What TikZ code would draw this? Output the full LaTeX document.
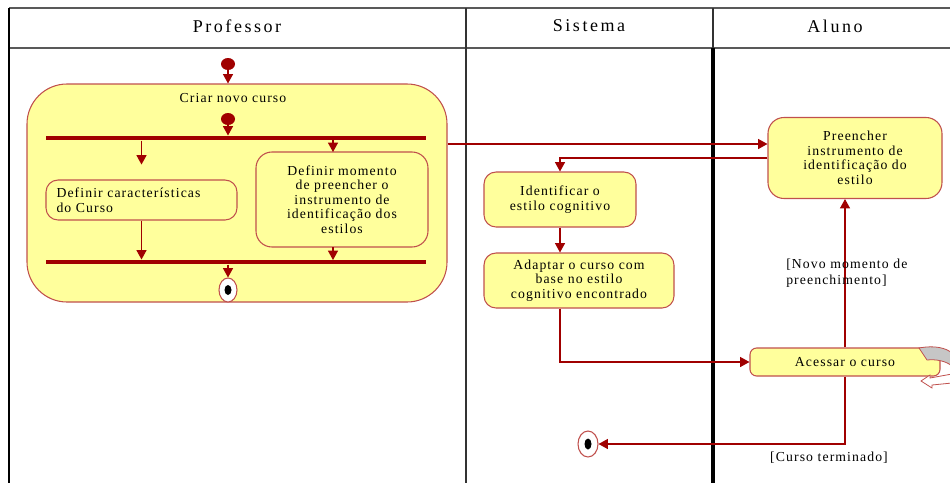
\documentclass[tikz,border=0pt]{standalone}
\usepackage{fontspec}
\setmainfont[LetterSpace=8]{Liberation Serif}
\newfontfamily\headfont[LetterSpace=14]{Liberation Serif}
\usetikzlibrary{positioning,calc,shapes,arrows.meta}

\definecolor{flowred}{HTML}{A00000}
\definecolor{boxred}{HTML}{C0504D}
\definecolor{boxyellow}{HTML}{FFFF9C}
\newdimen\pxu \pxu=0.75pt

\tikzset{
    act/.style={draw=boxred,fill=boxyellow,rounded corners=9pt,line width=0.8pt,
        align=center,inner sep=2pt,font=\fontsize{10.3}{10.9}\selectfont},
    startdot/.style={ellipse,fill=flowred,minimum width=14\pxu,minimum height=12\pxu,inner sep=0pt},
    enddot/.style={ellipse,draw=boxred,fill=white,line width=0.8pt,minimum width=18\pxu,minimum height=24\pxu,inner sep=0pt},
    bar/.style={fill=flowred,minimum width=380\pxu,minimum height=4.5\pxu,inner sep=0pt},
    flow/.style={-{Triangle[length=7pt,width=7.5pt]},flowred,line width=0.8pt},
    guard/.style={font=\fontsize{10.3}{11.5}\selectfont,align=left,inner sep=0pt},
    lane/.style={font=\headfont\fontsize{13.5}{15}\selectfont},
}

\begin{document}
\begin{tikzpicture}[x=0.75pt,y=-0.75pt]
    \useasboundingbox (0,0) rectangle (950,483);

    % swimlanes
    \draw[gray!70!black,line width=1.2pt] (9,8) -- (950,8);
    \draw[gray!70!black,line width=1.2pt] (9,48) -- (950,48);
    \draw[line width=1.2pt] (9,8) -- (9,483);
    \draw[gray!40!black,line width=1pt] (466,8) -- (466,483);
    \draw[gray!40!black,line width=1pt] (713,8) -- (713,48);
    \draw[line width=2.4pt] (713,48) -- (713,483);
    \node[lane] (hprof) at (237,26) {Professor};
    \node[lane] (hsis) at (589,26) {Sistema};
    \node[lane] (halu) at (835,26) {Aluno};

    % Professor
    \node[act,rounded corners=30pt,minimum width=420\pxu,minimum height=218\pxu] (criar) at (237,193) {};
    \node[font=\fontsize{10.3}{10.9}\selectfont] (criarlbl) at (233,98) {Criar novo curso};
    \node[startdot] (start1) at (228,64) {};
    \node[startdot] (start2) at (228,119) {};
    \node[bar] (fork) at (236,138) {};
    \node[bar] (join) at (236,262) {};
    \node[act,align=left,minimum width=191\pxu,minimum height=40\pxu,text width=170\pxu] (caract) at (141.5,200)
        {Definir características\\do Curso};
    \node[act,rounded corners=12pt,minimum width=172\pxu,minimum height=95\pxu] (momento) at (342,199.5)
        {Definir momento\\de preencher o\\instrumento de\\identificação dos\\estilos};
    \node[enddot] (end1) at (228,290) {};
    \fill (end1.center) ellipse (3.5 and 5);

    \draw[flow] (start1) -- (start1 |- criar.north);
    \draw[flow] (start2) -- (start2 |- fork.north);
    \draw[flow] (caract.north |- fork.south) -- ++(0,24);
    \draw[flow] (333,140) -- (333,152);
    \draw[flow] (caract.south) -- (caract.south |- join.north);
    \draw[flow] (333,247) -- (333,260);
    \draw[flow] (end1 |- join.south) -- (end1.north);

    % Sistema and Aluno
    \node[act,rounded corners=12pt,minimum width=174\pxu,minimum height=81\pxu] (preencher) at (855,158)
        {Preencher\\instrumento de\\identificação do\\estilo};
    \node[act,minimum width=152\pxu,minimum height=55\pxu] (identificar) at (560,199.5)
        {Identificar o\\estilo cognitivo};
    \node[act,minimum width=190\pxu,minimum height=55\pxu] (adaptar) at (579,280.5)
        {Adaptar o curso com\\base no estilo\\cognitivo encontrado};
    \node[act,rounded corners=5pt,minimum width=190\pxu,minimum height=28\pxu] (acessar) at (845,362)
        {Acessar o curso};
    \node[enddot,minimum width=20\pxu,minimum height=26\pxu] (end2) at (588,444) {};
    \fill (end2.center) ellipse (3.5 and 5.5);

    \draw[flow] ($(criar.east)+(0,-49)$) -- ($(preencher.west)+(0,-14)$);
    \draw[flow] (preencher.west) -| (identificar.north);
    \draw[flow] (identificar.south) -- (identificar.south |- adaptar.north);
    \draw[flow] (identificar.south |- adaptar.south) |- (acessar.west);
    \draw[flow] (acessar.north) -- (acessar.north |- preencher.south);
    \draw[flow] (acessar.south) |- (end2.east);

    \node[guard,anchor=north west] (gnovo) at (786,259) {[Novo momento de\\preenchimento]};
    \node[guard] (gfim) at (829,458) {[Curso terminado]};

    % self loop icon, cut by the border
    \draw[boxred,fill=gray!45,line width=0.6pt] (919,348) .. controls (935,345) and (946,348) .. (952,353)
        -- (952,366) .. controls (946,361) and (936,359) .. (927,360) -- cycle;
    \draw[boxred,fill=white,line width=0.6pt] (921,381) -- (930,375) -- (930,378) -- (952,374)
        -- (952,383) -- (932,385) -- (932,388) -- cycle;
\end{tikzpicture}
\end{document}
